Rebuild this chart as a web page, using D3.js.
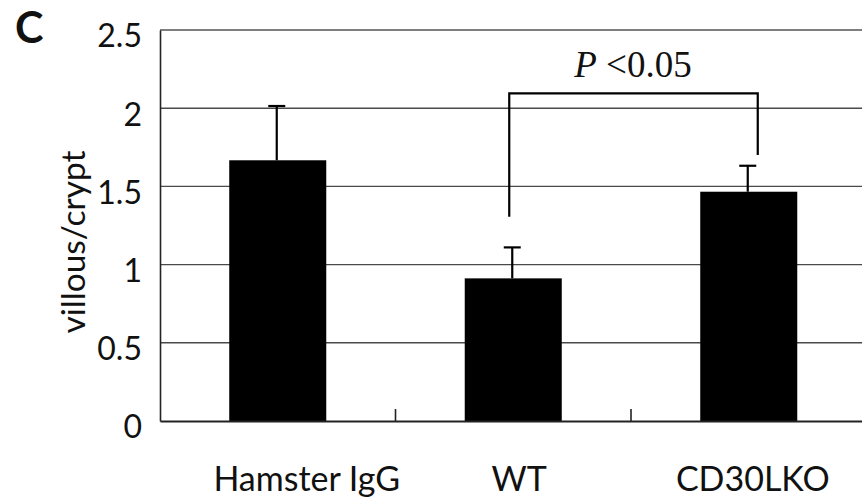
<!DOCTYPE html>
<html>
<head>
<meta charset="utf-8">
<script src="https://cdn.jsdelivr.net/npm/d3@7/dist/d3.min.js"></script>
<style>
  html, body { margin: 0; padding: 0; background: #fff; }
  svg { display: block; }
</style>
</head>
<body>
<svg id="chart" width="862" height="502"></svg>
<script>
// ---- data ----
const categories = ["Hamster IgG", "WT", "CD30LKO"];
const means = [1.667, 0.912, 1.466];
const errors = [0.347, 0.198, 0.166];
const yTicks = [0, 0.5, 1, 1.5, 2, 2.5];
const yTickLabels = ["0", "0.5", "1", "1.5", "2", "2.5"];
const yTitle = "villous/crypt";
const panelLabel = "C";
const sigPair = ["WT", "CD30LKO"];
const sigLevels = [2.095, 1.306, 1.70]; // bracket top, left leg end, right leg end
const sigP = "P";
const sigText = "<0.05";

// ---- layout ----
const W = 862, H = 502;
const plot = { left: 160, right: 866.5, top: 30, bottom: 421 };
const labelNudge = [29, 6, 4];
const font = "Lato, 'Open Sans', sans-serif";

const svg = d3.select("#chart");

const x = d3.scaleBand()
  .domain(categories)
  .range([plot.left, plot.right])
  .paddingInner(0.588)
  .paddingOuter(0.294);

const y = d3.scaleLinear().domain([0, 2.5]).range([plot.bottom, plot.top]);

// gridlines
svg.append("g").selectAll("line")
  .data(yTicks.filter(d => d > 0 && d < 2.5))
  .join("line")
  .attr("x1", plot.left).attr("x2", W)
  .attr("y1", d => y(d)).attr("y2", d => y(d))
  .attr("stroke", "#4a4a4a").attr("stroke-width", 1.4);

// top border
svg.append("line")
  .attr("x1", plot.left).attr("x2", W)
  .attr("y1", y(2.5)).attr("y2", y(2.5))
  .attr("stroke", "#555").attr("stroke-width", 1.6);

// y axis via d3.axisLeft
const yAxis = d3.axisLeft(y).tickValues(yTicks)
  .tickFormat((d, i) => yTickLabels[i]).tickSize(0).tickPadding(18);
const gy = svg.append("g").attr("transform", `translate(${plot.left},0)`).call(yAxis);
gy.select(".domain").attr("stroke", "#222").attr("stroke-width", 1.6);
gy.selectAll("text")
  .attr("font-family", font).attr("font-size", 32).attr("fill", "#111")
  .attr("dy", "0.53em").attr("x", -18);

// bars
svg.append("g").selectAll("rect")
  .data(categories)
  .join("rect")
  .attr("x", d => x(d))
  .attr("width", x.bandwidth())
  .attr("y", (d, i) => y(means[i]))
  .attr("height", (d, i) => y(0) - y(means[i]))
  .attr("fill", "#000");

// error bars
const capHalf = 8.5;
const eg = svg.append("g").attr("stroke", "#000").attr("stroke-width", 2.2);
categories.forEach((c, i) => {
  const cx = x(c) + x.bandwidth() / 2 - 1;
  eg.append("line").attr("x1", cx).attr("x2", cx)
    .attr("y1", y(means[i])).attr("y2", y(means[i] + errors[i]));
  eg.append("line").attr("x1", cx - capHalf).attr("x2", cx + capHalf)
    .attr("y1", y(means[i] + errors[i])).attr("y2", y(means[i] + errors[i]));
});

// x axis (bottom)
const xAxis = d3.axisBottom(x).tickSize(0).tickFormat("");
const gx = svg.append("g").attr("transform", `translate(0,${plot.bottom})`).call(xAxis);
gx.select(".domain").attr("stroke", "#222").attr("stroke-width", 1.8);
// inward ticks at band boundaries
const step = x.step();
const boundaries = categories.slice(1).map(c => x(c) - (step - x.bandwidth()) / 2);
svg.append("g").selectAll("line")
  .data(boundaries).join("line")
  .attr("x1", d => d).attr("x2", d => d)
  .attr("y1", plot.bottom).attr("y2", plot.bottom - 12)
  .attr("stroke", "#222").attr("stroke-width", 1.6);

// category labels
svg.append("g").selectAll("text")
  .data(categories).join("text")
  .attr("x", (d, i) => x(d) + x.bandwidth() / 2 + labelNudge[i])
  .attr("y", 491)
  .attr("text-anchor", "middle")
  .attr("font-family", font).attr("font-size", 34).attr("fill", "#111")
  .text(d => d);

// y title
svg.append("text")
  .attr("transform", `translate(85,242) rotate(-90)`)
  .attr("text-anchor", "middle")
  .attr("font-family", font).attr("font-size", 33.5).attr("fill", "#111")
  .text(yTitle);

// panel label
svg.append("text")
  .attr("x", 15).attr("y", 43)
  .attr("font-family", "Lato, 'Open Sans', sans-serif").attr("font-weight", "bold")
  .attr("font-size", 43).attr("fill", "#111")
  .text(panelLabel);

// significance bracket
const xl = x(sigPair[0]) + x.bandwidth() / 2 - 4;
const xr = x(sigPair[1]) + x.bandwidth() / 2 + 9;
svg.append("path")
  .attr("d", `M${xl},${y(sigLevels[1])}V${y(sigLevels[0])}H${xr}V${y(sigLevels[2])}`)
  .attr("fill", "none").attr("stroke", "#000").attr("stroke-width", 2.2);

const st = svg.append("text")
  .attr("x", 633).attr("y", 77)
  .attr("text-anchor", "middle")
  .attr("font-family", "'Liberation Serif', 'Times New Roman', serif")
  .attr("font-size", 37).attr("fill", "#111");
st.append("tspan").attr("font-style", "italic").text(sigP);
st.append("tspan").text("\u00a0" + sigText);
</script>
</body>
</html>
